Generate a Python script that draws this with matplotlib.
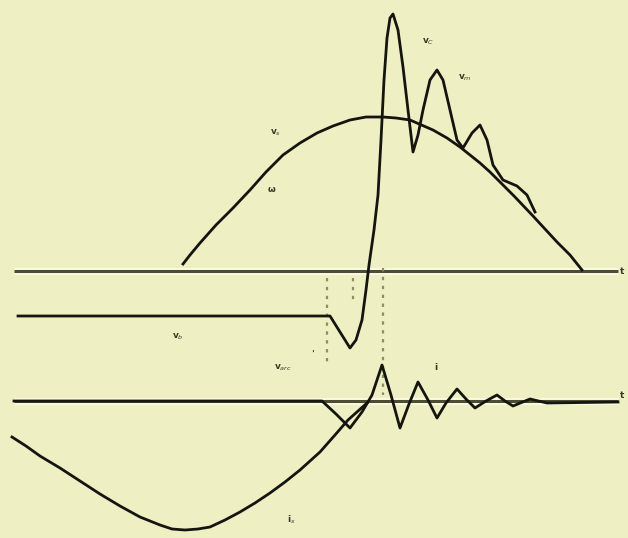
import numpy as np
import matplotlib
matplotlib.use("Agg")
import matplotlib.pyplot as plt

# everything in pixel units (x right, y down)

# two time axes
axis_x = [14, 618]
axis1_y = 271
axis2_y = 401

# source voltage, upper half wave
vs_x = [183, 190, 200, 216, 233, 250, 266, 283, 300, 317, 333, 350, 366, 383, 396, 410,
        433, 447, 460, 470, 480, 490, 500, 515, 533, 545, 557, 570, 582]
vs_y = [264, 255, 243, 225, 208, 190, 172, 155, 143, 133, 126, 120, 117, 117, 118, 120,
        130, 138, 147, 155, 163, 172, 182, 197, 216, 229, 242, 255, 270]

# voltage across the contacts with the recovery oscillation
vc_x = [18, 330, 340, 350, 356, 362, 366, 369, 374, 378, 381, 384, 387, 390, 393, 398,
        403, 408, 413, 418, 423, 430, 437, 443, 450, 457, 463, 472, 480, 487, 493, 503,
        517, 527, 535]
vc_y = [316, 316, 332, 348, 340, 320, 290, 265, 230, 195, 140, 80, 38, 18, 14, 30,
        67, 110, 152, 135, 110, 80, 70, 80, 110, 140, 148, 133, 125, 140, 165, 180,
        186, 195, 212]

# lower trace: arc voltage and after-current oscillation
va_x = [14, 322, 336, 350, 362, 372, 382, 391, 400, 409, 418, 428, 437, 446, 457, 466,
        475, 486, 497, 505, 513, 530, 547, 618]
va_y = [401, 401, 414, 428, 412, 395, 365, 395, 428, 404, 382, 400, 418, 403, 389, 399,
        408, 401, 395, 401, 406, 399, 403, 402]

# current, lower half wave
i_x = [12, 26, 40, 60, 80, 100, 120, 140, 160, 172, 185, 198, 210, 225, 240, 255,
       270, 285, 300, 320, 335, 348, 367]
i_y = [437, 446, 456, 468, 481, 494, 506, 517, 525, 529, 530, 529, 527, 520, 512, 503,
       493, 482, 470, 452, 435, 420, 403]

# dotted markers
dot_x = [327, 353, 383]
dot_top = [278, 278, 268]
dot_bot = [365, 300, 395]

# small labels
lab_text = ["v$_s$", "ω", "v$_C$", "v$_m$", "v$_b$", "v$_{arc}$", "'", "i", "i$_s$", "t", "t"]
lab_x = [276, 272, 428, 465, 178, 283, 313, 436, 291, 622, 622]
lab_y = [133, 190, 42, 78, 337, 368, 354, 367, 520, 272, 395]

bg = "#eef0c3"
ink = "#151510"
axis_ink = "#4d4d33"
halo = "#fbfbe4"

fig = plt.figure(figsize=(6.28, 5.38), dpi=100)
fig.patch.set_facecolor(bg)
ax = fig.add_axes([0, 0, 1, 1])
ax.set_facecolor(bg)
ax.set_xlim(0, 628)
ax.set_ylim(538, 0)
ax.axis("off")

# axes with a pale halo like the scanned original
for yy in [axis1_y, axis2_y]:
    ax.plot(axis_x, [yy, yy], color=halo, lw=5.0, solid_capstyle="butt", zorder=1)
    ax.plot(axis_x, [yy, yy], color=axis_ink, lw=2.2, solid_capstyle="butt", zorder=2)

for xx, y0, y1 in zip(dot_x, dot_top, dot_bot):
    ax.plot([xx, xx], [y0, y1], color="#8e8e66", lw=1.6, ls=(0, (1.5, 2.5)), zorder=2)

for cx, cy in [(vs_x, vs_y), (vc_x, vc_y), (va_x, va_y), (i_x, i_y)]:
    ax.plot(cx, cy, color=ink, lw=2.0, solid_joinstyle="round", zorder=4)

for t, xx, yy in zip(lab_text, lab_x, lab_y):
    ax.text(xx, yy, t, fontsize=6.5, color="#3a3a25", ha="center", va="center",
            fontweight="bold", zorder=5)

plt.savefig("out.png", dpi=100, facecolor=bg)
